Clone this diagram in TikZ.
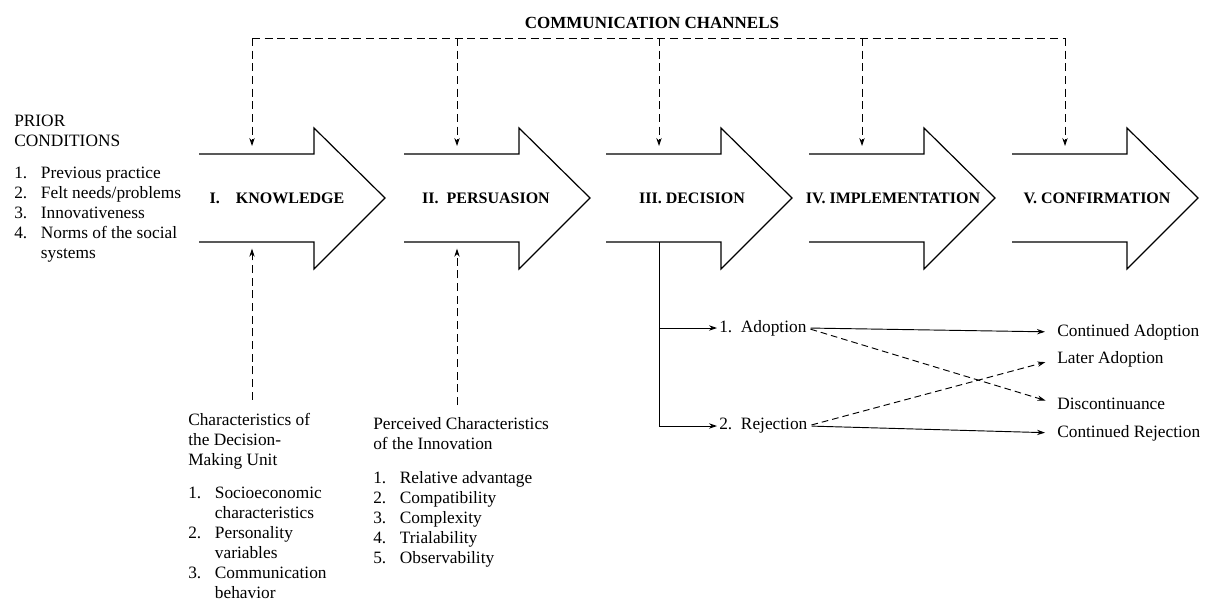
\documentclass[tikz,border=0pt]{standalone}
\usepackage{fontspec}
\setmainfont{Liberation Serif}
\usetikzlibrary{arrows.meta}
\newcommand{\itm}[2]{\makebox[20pt][l]{#1}#2}
\newcommand{\cnt}[1]{\hspace*{20pt}#1}
\tikzset{
  stage/.style={line width=0.9pt},
  stagelabel/.style={font=\fontsize{12}{14}\selectfont\bfseries, inner sep=0pt},
  txt/.style={font=\fontsize{13}{15}\selectfont, align=left, inner sep=0pt, anchor=north west},
  outtxt/.style={font=\fontsize{13}{15}\selectfont, inner sep=0pt, anchor=west},
  dashline/.style={line width=0.7pt, dash pattern=on 6pt off 3.5pt},
  chan/.style={dashline, -{Stealth[length=6pt,width=4pt]}},
  flow/.style={line width=0.7pt, -{Stealth[length=6pt,width=4pt]}}
}
\begin{document}
\begin{tikzpicture}[x=0.75pt,y=-0.75pt]
\useasboundingbox (0,0) rectangle (1208,603);

\foreach \l/\c/\name/\lab in {199/277/know/{I.\quad KNOWLEDGE}, 404/486/pers/{II.\enspace PERSUASION}, 606/692/dec/{III. DECISION}, 809/893/impl/{IV. IMPLEMENTATION}, 1012/1097/conf/{V. CONFIRMATION}}{
  \draw[stage] (\l,154) -- (\l+115,154) -- (\l+115,128) -- (\l+186,198) -- (\l+115,269) -- (\l+115,242) -- (\l,242);
  \node[stagelabel] (\name) at (\c,198) {\lab};
  \coordinate (\name-top) at (\l+53,154);
  \coordinate (\name-bot) at (\l+53,242);
}

\node[font=\fontsize{12.75}{15}\selectfont\bfseries, inner sep=0pt] (comm) at (652,23) {COMMUNICATION CHANNELS};
\coordinate (chL) at (252,38);
\coordinate (chR) at (1065,38);
\draw[dashline] (chL) -- (chR);
\foreach \s in {know,pers,dec,impl,conf}
  \draw[chan, shorten >=6pt] (\s-top |- chL) -- (\s-top);

\node[txt] (prior) at (14,115) {PRIOR\\CONDITIONS};
\node[txt] (priorlist) at (14,167) {\itm{1.}{Previous practice}\\ \itm{2.}{Felt needs/problems}\\ \itm{3.}{Innovativeness}\\ \itm{4.}{Norms of the social}\\ \cnt{systems}};

\node[txt] (unit) at (188,413) {Characteristics of\\the Decision-\\Making Unit};
\node[txt] (unitlist) at (188,487) {\itm{1.}{Socioeconomic}\\ \cnt{characteristics}\\ \itm{2.}{Personality}\\ \cnt{variables}\\ \itm{3.}{Communication}\\ \cnt{behavior}};
\draw[chan, shorten <=10pt, shorten >=5pt] (know-bot |- unit.north) -- (know-bot);

\node[txt] (innov) at (373,417) {Perceived Characteristics\\of the Innovation};
\node[txt] (innovlist) at (373,471) {\itm{1.}{Relative advantage}\\ \itm{2.}{Compatibility}\\ \itm{3.}{Complexity}\\ \itm{4.}{Trialability}\\ \itm{5.}{Observability}};
\draw[chan, shorten <=9pt, shorten >=5pt] (pers-bot |- innov.north) -- (pers-bot);

\node[outtxt] (adopt) at (719,328) {1.~~Adoption};
\node[outtxt] (reject) at (719,426) {2.~~Rejection};
\node[outtxt] (contadopt) at (1057,332) {Continued Adoption};
\node[outtxt] (later) at (1057,359) {Later Adoption};
\node[outtxt] (discont) at (1057,404) {Discontinuance};
\node[outtxt] (contreject) at (1057,433) {Continued Rejection};

\draw[flow, shorten >=1.5pt] (dec-bot) |- (adopt.west);
\draw[flow, shorten >=1.5pt] (dec-bot) |- (reject.west);
\draw[flow, shorten <=3pt, shorten >=9pt] (adopt.east) -- (contadopt.west);
\draw[flow, shorten <=3pt, shorten >=9pt] (reject.east) -- (contreject.west);
\draw[chan, dash pattern=on 5pt off 3pt, shorten <=3pt, shorten >=9pt] (adopt.east) -- (discont.west);
\draw[chan, dash pattern=on 5pt off 3pt, shorten <=3pt, shorten >=9pt] (reject.east) -- (later.west);
\end{tikzpicture}
\end{document}
